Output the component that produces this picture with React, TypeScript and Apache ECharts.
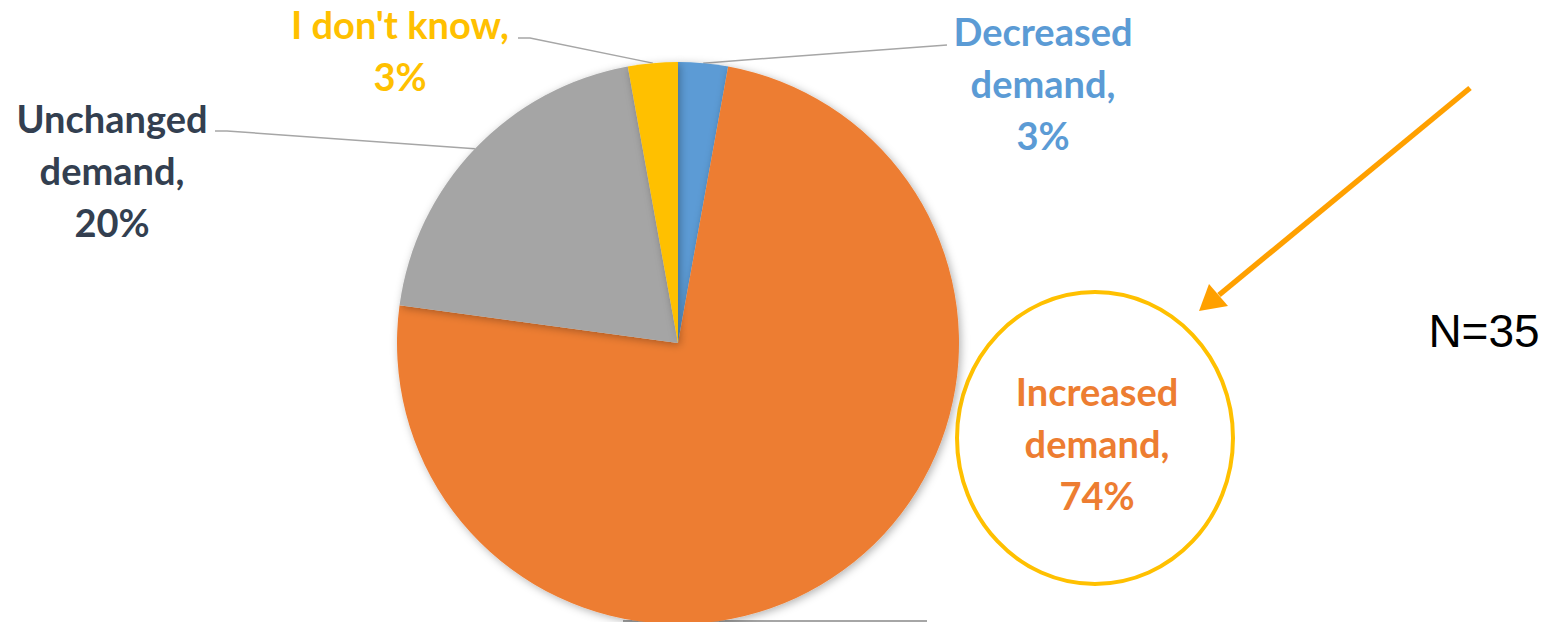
import React, { useEffect, useRef } from "react";
import * as echarts from "echarts";

const categories = ["Decreased demand", "Increased demand", "Unchanged demand", "I don't know"];
const values = [1, 26, 7, 1];
const sliceColors = ["#5B9BD5", "#ED7D31", "#A5A5A5", "#FFC000"];
const labelColors = ["#5B9BD5", "#ED7D31", "#333F50", "#FFC000"];
const sampleNote = "N=35";

// label placement (center of text block) and leader-line end points
const labelPos = [
  { x: 1043, y: 83, line: [[947, 45]] },
  { x: 1097, y: 443, line: null },
  { x: 112, y: 170, line: [[227, 131], [215, 131]] },
  { x: 400, y: 50, line: [[530, 38], [518, 38]] },
];

export default function App() {
  const ref = useRef<HTMLDivElement>(null);
  useEffect(() => {
    const chart = echarts.init(ref.current!, null, { renderer: "svg" });
    const FONT = "Lato";
    chart.setOption({
      animation: false,
      backgroundColor: "#ffffff",
      series: [
        {
          type: "pie",
          center: [678, 343],
          radius: 281,
          startAngle: 90,
          clockwise: true,
          avoidLabelOverlap: false,
          itemStyle: {
            shadowBlur: 8,
            shadowColor: "rgba(0,0,0,0.3)",
            shadowOffsetX: 2,
            shadowOffsetY: 2,
          },
          label: {
            show: true,
            position: "outside",
            fontFamily: FONT,
            fontWeight: "bold",
            fontSize: 38,
            lineHeight: 52,
            align: "center",
            formatter: (p: any) =>
              p.name.replace(" demand", "\ndemand") + ",\n" + Math.round(p.percent) + "%",
          },
          labelLine: {
            show: true,
            length: 10,
            length2: 10,
            smooth: false,
            lineStyle: { color: "#A6A6A6", width: 1.5 },
          },
          labelLayout: (params: any) => {
            const lp = labelPos[params.dataIndex];
            const out: any = { x: lp.x, y: lp.y, align: "center", verticalAlign: "middle" };
            if (lp.line && params.labelLinePoints) {
              out.labelLinePoints = [params.labelLinePoints[0], ...lp.line];
            }
            return out;
          },
          data: categories.map((c, i) => ({
            name: c,
            value: values[i],
            itemStyle: { color: sliceColors[i] },
            label: { color: labelColors[i] },
            labelLine: i === 1 ? { show: false } : undefined,
          })),
        },
      ],
      graphic: [
        {
          type: "line",
          shape: { x1: 623, y1: 621, x2: 927, y2: 621 },
          style: { stroke: "#A6A6A6", lineWidth: 2 },
          z: -1,
        },
        {
          type: "ellipse",
          shape: { cx: 1095, cy: 438, rx: 138, ry: 146 },
          style: { fill: "none", stroke: "#FFC000", lineWidth: 4 },
        },
        {
          type: "line",
          shape: { x1: 1470, y1: 88, x2: 1219, y2: 295 },
          style: { stroke: "#FFA000", lineWidth: 5.5 },
        },
        {
          type: "polygon",
          shape: { points: [[1199, 311], [1209, 284], [1228, 306]] },
          style: { fill: "#FFA000" },
        },
        {
          type: "text",
          x: 1484,
          y: 331,
          style: {
            text: sampleNote,
            fill: "#000000",
            font: "46px 'Liberation Sans', Arial, sans-serif",
            align: "center",
            verticalAlign: "middle",
          },
        },
      ],
    });
    return () => chart.dispose();
  }, []);
  return (
    <div
      ref={ref}
      style={{ position: "absolute", left: 0, top: 0, width: 1555, height: 622 }}
    />
  );
}
